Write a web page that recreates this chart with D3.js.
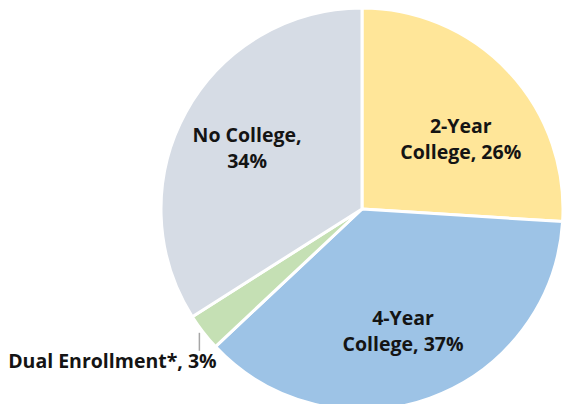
<!DOCTYPE html>
<html>
<head>
<meta charset="utf-8">
<script src="https://cdn.jsdelivr.net/npm/d3@7"></script>
<style>
  html, body { margin: 0; padding: 0; background: #fff; overflow: hidden; }
  svg { display: block; }
  text { font-family: "Open Sans", "Liberation Sans", sans-serif; font-weight: 700; fill: #141414; }
</style>
</head>
<body>
<svg id="chart" width="563" height="404"></svg>
<script>
// Post-secondary pathways share (percent)
const categories = ["2-Year College", "4-Year College", "Dual Enrollment*", "No College"];
const values = [26, 37, 3, 34];
const labelLines = [
  ["2-Year", "College, 26%"],
  ["4-Year", "College, 37%"],
  ["Dual Enrollment*, 3%"],
  ["No College,", "34%"]
];
const colors = ["#FFE699", "#9DC3E6", "#C5E0B4", "#D6DCE5"];

const width = 563, height = 404;
const cx = 362, cy = 209, radius = 201;

const svg = d3.select("#chart");
const g = svg.append("g").attr("transform", `translate(${cx},${cy})`);

const pie = d3.pie().sort(null).value(d => d.value);
const data = pie(categories.map((c, i) => ({ name: c, value: values[i], lines: labelLines[i] })));

const arc = d3.arc().innerRadius(0).outerRadius(radius);
const labelArc = d3.arc().innerRadius(130).outerRadius(130);

g.selectAll("path.slice")
  .data(data)
  .join("path")
  .attr("class", "slice")
  .attr("d", arc)
  .attr("fill", (d, i) => colors[i])
  .attr("stroke", "#fff")
  .attr("stroke-width", 3)
  .attr("stroke-linejoin", "round");

// In-slice label nudges relative to the label arc centroid
const nudges = [[4, 20], [-3, 1], null, [-1, 3]];
const lineGap = 26;

data.forEach((d, i) => {
  if (!nudges[i]) return;
  const [x, y] = labelArc.centroid(d);
  const t = g.append("text")
    .attr("text-anchor", "middle")
    .attr("font-size", 19.5);
  d.data.lines.forEach((line, k) => {
    t.append("tspan")
      .attr("x", x + nudges[i][0])
      .attr("y", y + nudges[i][1] + (k - (d.data.lines.length - 1) / 2) * lineGap + 6)
      .text(line);
  });
});

// Small slice: leader line from the rim straight down to an outside label
const small = data[2];
const mid = (small.startAngle + small.endAngle) / 2;
const rimX = Math.sin(mid) * (radius + 1) - 3;
const rimY = -Math.cos(mid) * (radius + 1);
g.append("line")
  .attr("x1", rimX).attr("y1", rimY)
  .attr("x2", rimX).attr("y2", rimY + 18)
  .attr("stroke", "#A6A6A6")
  .attr("stroke-width", 1.5);
g.append("text")
  .attr("text-anchor", "middle")
  .attr("font-size", 19.5)
  .attr("x", rimX - 87)
  .attr("y", rimY + 35)
  .text(small.data.lines[0]);
</script>
</body>
</html>
